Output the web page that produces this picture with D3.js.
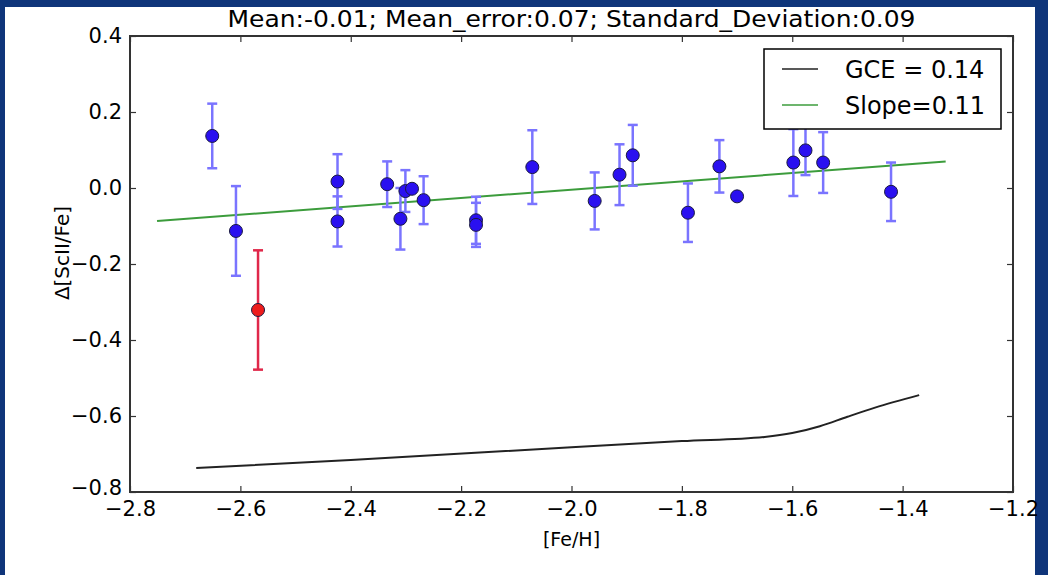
<!DOCTYPE html>
<html>
<head>
<meta charset="utf-8">
<script src="https://cdn.jsdelivr.net/npm/d3@7"></script>
<style>
  body { margin: 0; background: #0f357a; }
  text { font-family: "DejaVu Sans", sans-serif; fill: #000; }
</style>
</head>
<body>
<div id="main_view"></div>
<script>
// chart values
var titleText = "Mean:-0.01; Mean_error:0.07; Standard_Deviation:0.09";
var xTicks = [-2.8, -2.6, -2.4, -2.2, -2.0, -1.8, -1.6, -1.4, -1.2];
var yTicks = [0.4, 0.2, 0.0, -0.2, -0.4, -0.6, -0.8];

var starFeH = [-2.651, -2.608, -2.424, -2.424, -2.334, -2.310, -2.301, -2.289, -2.268,
               -2.173, -2.173, -2.071, -1.958, -1.913, -1.889, -1.789, -1.732, -1.700,
               -1.598, -1.576, -1.544, -1.421];
var starDelta = [0.137, -0.113, 0.017, -0.088, 0.010, -0.081, -0.008, -0.002, -0.032,
                 -0.085, -0.097, 0.055, -0.034, 0.035, 0.086, -0.065, 0.057, -0.022,
                 0.067, 0.099, 0.067, -0.010];
var starErr = [0.085, 0.118, 0.072, 0.066, 0.060, 0.081, 0.055, 0, 0.063,
               0.062, 0.058, 0.097, 0.075, 0.080, 0.080, 0.077, 0.069, 0,
               0.088, 0.065, 0.080, 0.077];

var outlierFeH = [-2.568];
var outlierDelta = [-0.321];
var outlierErr = [0.157];

var slopeFeH = [-2.751, -1.322];
var slopeDelta = [-0.087, 0.070];

var gceFeH = [-2.68, -2.4, -2.0, -1.8, -1.65, -1.6, -1.55, -1.5, -1.45, -1.37];
var gceDelta = [-0.737, -0.716, -0.682, -0.666, -0.655, -0.645, -0.627, -0.602, -0.578, -0.545];

var legendLabels = ["GCE = 0.14", "Slope=0.11"];
var legendColors = ["#222222", "#3c9c3c"];

// dimensions
var W = 1048, H = 575;
var margin = {top: 36, right: 35, bottom: 83, left: 130},
    width = W - margin.left - margin.right,
    height = H - margin.top - margin.bottom;

var xScale = d3.scaleLinear().domain([-2.8, -1.2]).range([0, width]);
var yScale = d3.scaleLinear().domain([-0.8, 0.4]).range([height, 0]);

var root = d3.select("#main_view").append("svg")
    .attr("width", W)
    .attr("height", H);

// dark backdrop and white panel
root.append("rect").attr("width", W).attr("height", H).attr("fill", "#0f357a");
root.append("rect").attr("x", 5).attr("y", 7).attr("width", 1030).attr("height", H - 7).attr("fill", "#fff");

var svg = root.append("g")
    .attr("transform", "translate(" + margin.left + "," + margin.top + ")");

var fmt = d3.format(".1f");

// axes with inward ticks on all four sides
function styleAxis(g) {
  g.select(".domain").remove();
  g.selectAll(".tick line").attr("stroke", "#333").attr("stroke-width", 1.2);
  g.selectAll(".tick text").attr("fill", "#000").style("font-size", "21px")
    .style("font-family", "DejaVu Sans, sans-serif");
}

svg.append("g")
    .attr("transform", "translate(0," + height + ")")
    .call(d3.axisBottom(xScale).tickValues(xTicks).tickFormat(fmt).tickSizeInner(-6).tickSizeOuter(0).tickPadding(9))
    .call(styleAxis);
svg.append("g")
    .call(d3.axisTop(xScale).tickValues(xTicks).tickFormat("").tickSizeInner(-6).tickSizeOuter(0))
    .call(styleAxis);
var yAxisG = svg.append("g")
    .call(d3.axisLeft(yScale).tickValues(yTicks).tickFormat(fmt).tickSizeInner(-6).tickSizeOuter(0).tickPadding(8))
    .call(styleAxis);
// bottom y label sits a bit higher, clear of the first x label
yAxisG.selectAll(".tick text").filter(function(d) { return d === -0.8; }).attr("dy", "0.1em");
svg.append("g")
    .attr("transform", "translate(" + width + ",0)")
    .call(d3.axisRight(yScale).tickValues(yTicks).tickFormat("").tickSizeInner(-6).tickSizeOuter(0))
    .call(styleAxis);

// lines
var line = d3.line()
    .x(function(d) { return xScale(d[0]); })
    .y(function(d) { return yScale(d[1]); });

svg.append("path")
    .datum(d3.zip(gceFeH, gceDelta))
    .attr("fill", "none")
    .attr("stroke", legendColors[0])
    .attr("stroke-width", 2)
    .attr("d", line.curve(d3.curveMonotoneX));

svg.append("path")
    .datum(d3.zip(slopeFeH, slopeDelta))
    .attr("fill", "none")
    .attr("stroke", legendColors[1])
    .attr("stroke-width", 2)
    .attr("d", d3.line().x(function(d) { return xScale(d[0]); }).y(function(d) { return yScale(d[1]); }));

// error bars + points
function drawPoints(xs, ys, es, barColor, fill) {
  var data = xs.map(function(x, i) { return {x: x, y: ys[i], e: es[i]}; });
  var bars = svg.append("g").attr("stroke", barColor).attr("stroke-width", 2.5);
  data.filter(function(d) { return d.e > 0; }).forEach(function(d) {
    var cx = xScale(d.x), y1 = yScale(d.y + d.e), y2 = yScale(d.y - d.e);
    bars.append("line").attr("x1", cx).attr("x2", cx).attr("y1", y1).attr("y2", y2);
    bars.append("line").attr("x1", cx - 5).attr("x2", cx + 5).attr("y1", y1).attr("y2", y1);
    bars.append("line").attr("x1", cx - 5).attr("x2", cx + 5).attr("y1", y2).attr("y2", y2);
  });
  svg.append("g").selectAll("circle")
      .data(data)
    .enter().append("circle")
      .attr("r", 6.5)
      .attr("cx", function(d) { return xScale(d.x); })
      .attr("cy", function(d) { return yScale(d.y); })
      .attr("fill", fill)
      .attr("stroke", "#1a1a40")
      .attr("stroke-width", 1);
}

drawPoints(starFeH, starDelta, starErr, "#7a74ff", "#2a10f0");
drawPoints(outlierFeH, outlierDelta, outlierErr, "#e0284a", "#ee1c1c");

// frame
svg.append("rect")
    .attr("width", width)
    .attr("height", height)
    .attr("fill", "none")
    .attr("stroke", "#333")
    .attr("stroke-width", 2);

// legend
var legend = svg.append("g").attr("transform", "translate(" + (764 - margin.left) + "," + (49 - margin.top) + ")");
legend.append("rect")
    .attr("width", 237).attr("height", 80)
    .attr("fill", "#fff").attr("stroke", "#000").attr("stroke-width", 1.5);
legendLabels.forEach(function(lab, i) {
  var yy = 20 + i * 36;
  legend.append("line")
      .attr("x1", 18).attr("x2", 54).attr("y1", yy).attr("y2", yy)
      .attr("stroke", legendColors[i]).attr("stroke-width", 1.6);
  legend.append("text")
      .attr("x", 81).attr("y", yy + 9)
      .style("font-size", "24px")
      .text(lab);
});

// title and axis labels
root.append("text")
    .attr("x", margin.left + width / 2)
    .attr("y", 27)
    .attr("text-anchor", "middle")
    .attr("textLength", 688)
    .attr("lengthAdjust", "spacingAndGlyphs")
    .style("font-size", "23px")
    .text(titleText);

root.append("text")
    .attr("x", margin.left + width / 2)
    .attr("y", 546)
    .attr("text-anchor", "middle")
    .style("font-size", "19px")
    .text("[Fe/H]");

root.append("text")
    .attr("transform", "translate(69," + (margin.top + height / 2 - 11) + ") rotate(-90)")
    .attr("text-anchor", "middle")
    .style("font-size", "20px")
    .text("Δ[ScII/Fe]");
</script>
</body>
</html>
